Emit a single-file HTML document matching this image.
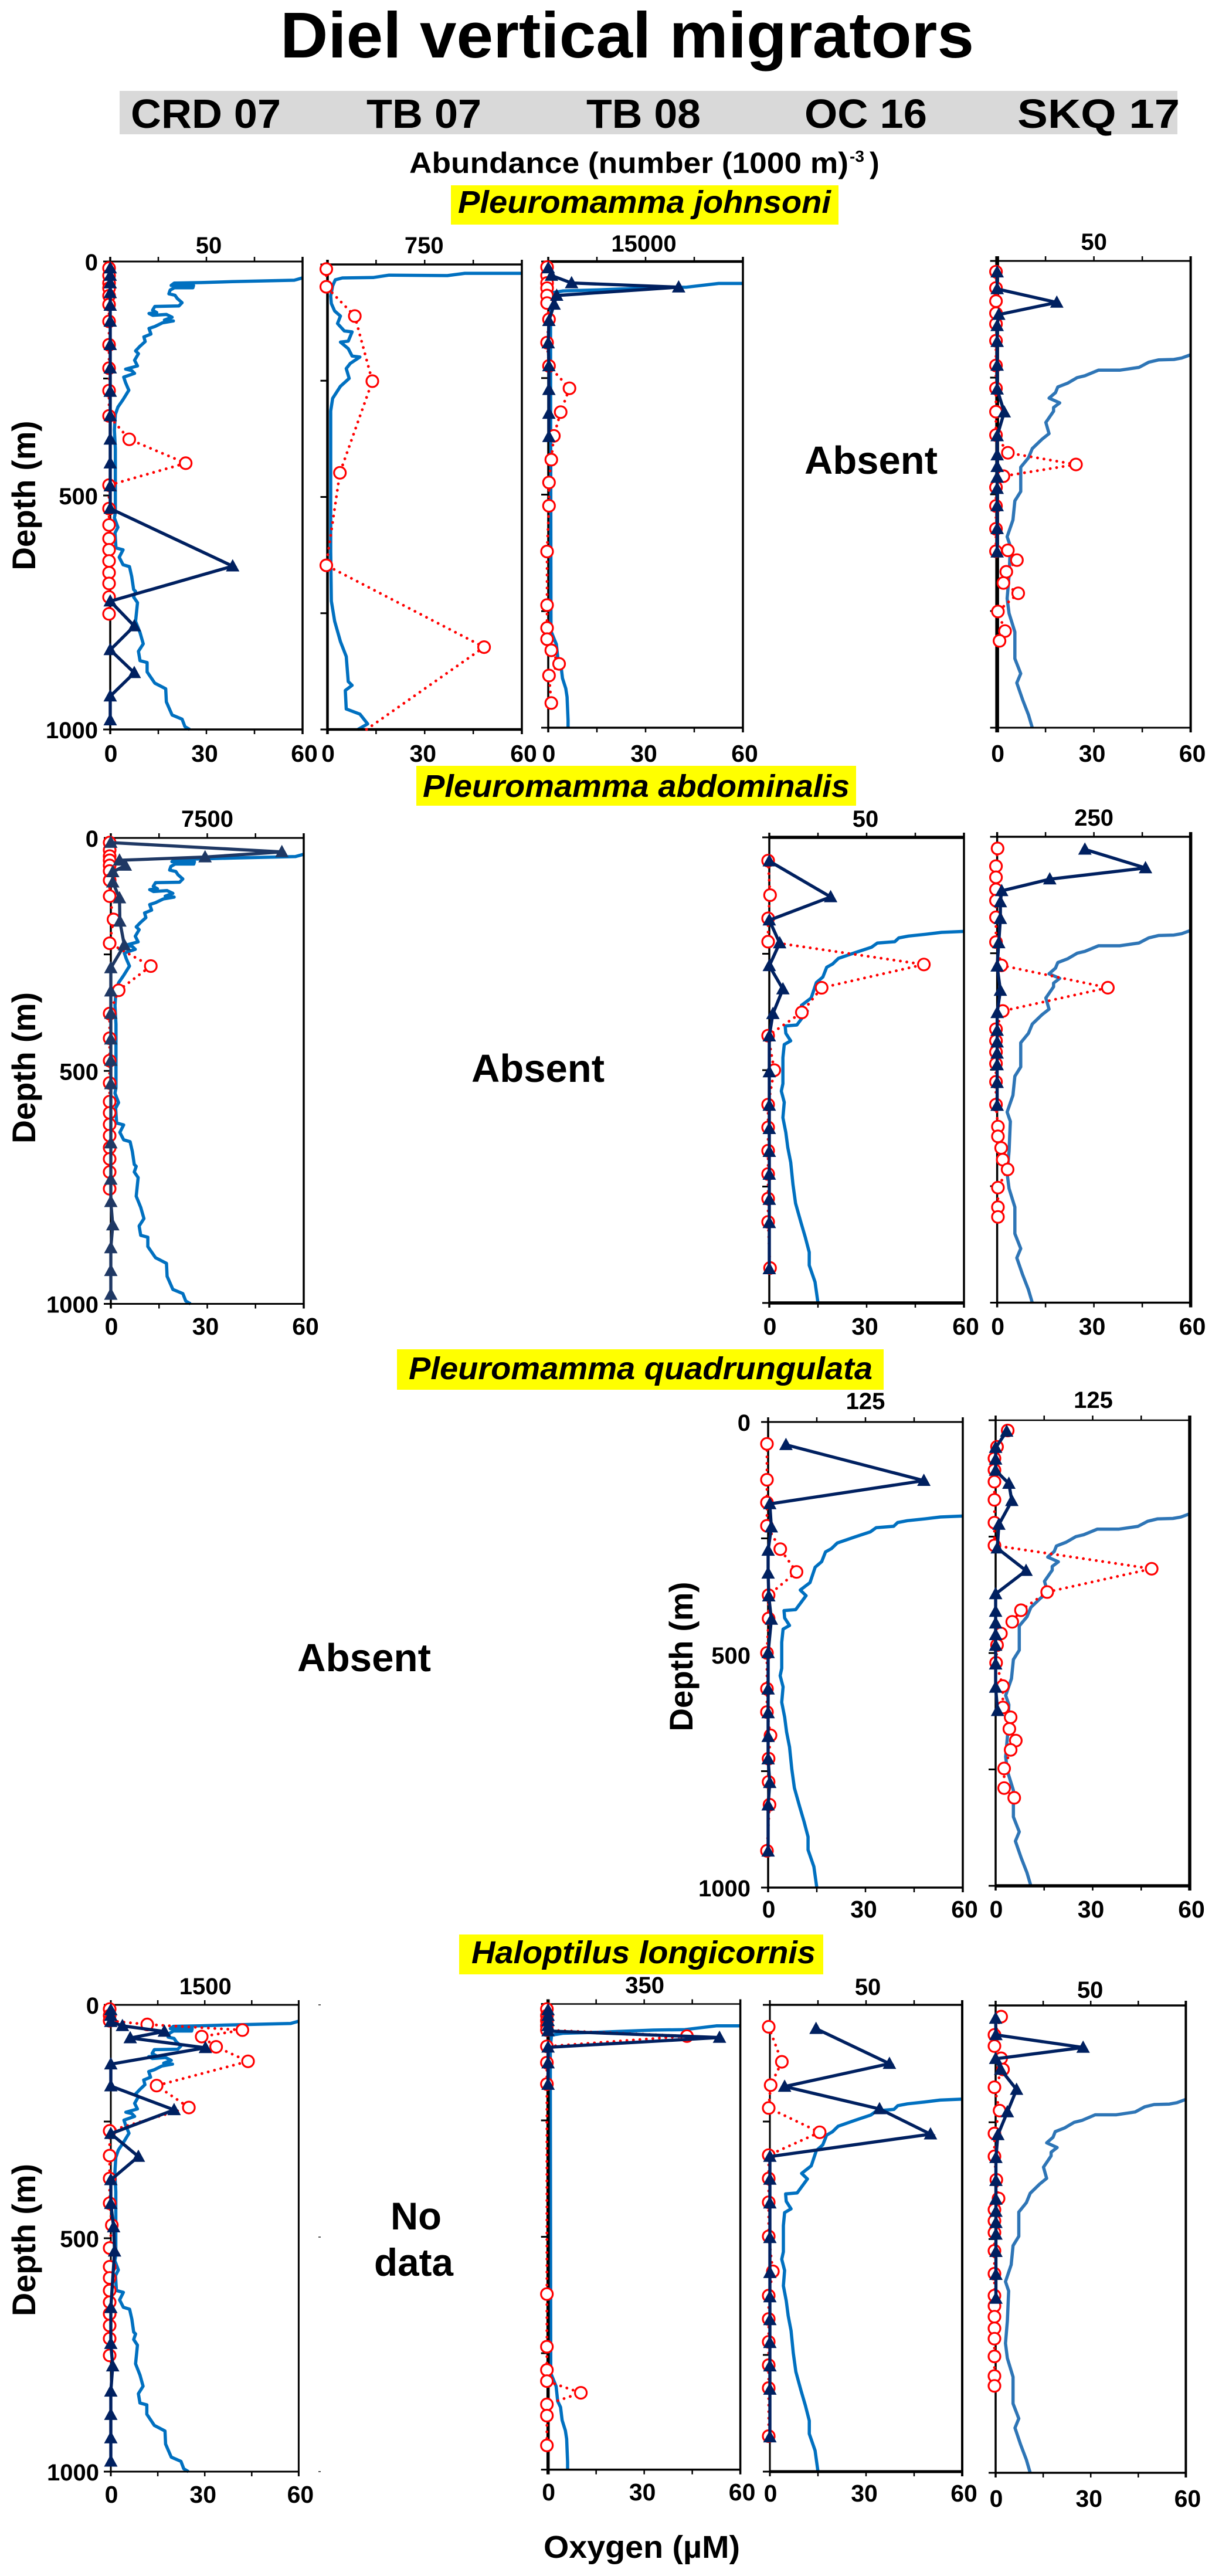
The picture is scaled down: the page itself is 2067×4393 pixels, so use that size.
<!DOCTYPE html>
<html lang="en">
<head>
<meta charset="utf-8">
<title>Diel vertical migrators</title>
<style>
html,body{margin:0;padding:0;background:#fff;}
svg{display:block;}
text{font-family:"Liberation Sans",sans-serif;font-weight:bold;fill:#000;}
</style>
</head>
<body>
<svg id="chart" xmlns="http://www.w3.org/2000/svg" width="2067" height="4393" viewBox="0 0 2067 4393">
<rect x="0" y="0" width="2067" height="4393" fill="#fff"/>
<text x="478" y="98" font-size="110" textLength="1183" lengthAdjust="spacingAndGlyphs">Diel vertical migrators</text>
<rect x="204" y="155" width="1804" height="74" fill="#d9d9d9"/>
<text x="223" y="218" font-size="70" textLength="256" lengthAdjust="spacingAndGlyphs">CRD 07</text>
<text x="625" y="218" font-size="70" textLength="196" lengthAdjust="spacingAndGlyphs">TB 07</text>
<text x="1000" y="218" font-size="70" textLength="195" lengthAdjust="spacingAndGlyphs">TB 08</text>
<text x="1372" y="218" font-size="70" textLength="209" lengthAdjust="spacingAndGlyphs">OC 16</text>
<text x="1735" y="218" font-size="70" textLength="277" lengthAdjust="spacingAndGlyphs">SKQ 17</text>
<text x="698" y="295" font-size="50" textLength="749" lengthAdjust="spacingAndGlyphs">Abundance (number (1000 m)</text>
<text x="1449" y="276" font-size="28">-3</text>
<text x="1483" y="295" font-size="50">)</text>

<rect x="769" y="316" width="661" height="67" fill="#ffff00"/>
<text x="781" y="363" font-size="54" font-style="italic" textLength="636" lengthAdjust="spacingAndGlyphs">Pleuromamma johnsoni</text>
<rect x="710" y="1306" width="750" height="68" fill="#ffff00"/>
<text x="721" y="1359" font-size="54" font-style="italic" textLength="728" lengthAdjust="spacingAndGlyphs">Pleuromamma abdominalis</text>
<rect x="677" y="2301" width="830" height="69" fill="#ffff00"/>
<text x="697" y="2352" font-size="54" font-style="italic" textLength="791" lengthAdjust="spacingAndGlyphs">Pleuromamma quadrungulata</text>
<rect x="783" y="3299" width="621" height="68" fill="#ffff00"/>
<text x="804" y="3348" font-size="54" font-style="italic" textLength="587" lengthAdjust="spacingAndGlyphs">Haloptilus longicornis</text>

<text x="1372" y="808" font-size="67" textLength="227" lengthAdjust="spacingAndGlyphs">Absent</text>
<text x="804" y="1845" font-size="67" textLength="227" lengthAdjust="spacingAndGlyphs">Absent</text>
<text x="507" y="2850" font-size="67" textLength="228" lengthAdjust="spacingAndGlyphs">Absent</text>
<text x="666" y="3802" font-size="66" textLength="87" lengthAdjust="spacingAndGlyphs">No</text>
<text x="638" y="3881" font-size="66" textLength="135" lengthAdjust="spacingAndGlyphs">data</text>

<text transform="translate(60,845) rotate(-90)" text-anchor="middle" font-size="56" textLength="255" lengthAdjust="spacingAndGlyphs">Depth (m)</text>
<text transform="translate(60,1821) rotate(-90)" text-anchor="middle" font-size="56" textLength="258" lengthAdjust="spacingAndGlyphs">Depth (m)</text>
<text transform="translate(1181,2825) rotate(-90)" text-anchor="middle" font-size="56" textLength="255" lengthAdjust="spacingAndGlyphs">Depth (m)</text>
<text transform="translate(60,3820) rotate(-90)" text-anchor="middle" font-size="56" textLength="260" lengthAdjust="spacingAndGlyphs">Depth (m)</text>
<text x="927" y="4362" font-size="54" textLength="335" lengthAdjust="spacingAndGlyphs">Oxygen (µM)</text>
<rect x="543" y="3418" width="4" height="2" fill="#555"/>
<rect x="543" y="3814" width="4" height="2" fill="#555"/>
<rect x="543" y="4214" width="4" height="2" fill="#555"/>
</svg>

<script>
// ---------- Axis tick values ----------
const oxygenTickValues = [0, 15, 30, 45, 60];
const oxygenTickLabels = [0, 30, 60];
const depthTickValues = [0, 250, 500, 750, 1000];
const depthTickLabels = [0, 500, 1000];

// ---------- Oxygen profiles (uM) by station ----------
const crdOxygen = [60,57.4,38.1,28.4,20,19,26,25.8,20,18.7,18.3,20.2,20.9,22.4,21.4,13.9,13.2,14.5,12.1,13.3,17.5,19.3,16.9,19.7,16.3,13.9,12.1,12.7,10.5,10.9,9.3,7.9,8.8,7.6,8.5,4.8,6.7,7.6,4.2,4.8,5.8,4,2.4,1.6,1.3,1.6,1.6,1.6,1.3,2.4,1.5,1.8,4,2.8,4,6,6.7,7.3,7.9,7.3,8.5,7.9,9.3,10.3,8.8,9.3,11.5,11.5,13.9,17.3,17.5,19.3,22.4,23.3,24.8];
const crdOxygenDepth = [35,40,43,45,46,51,51,56,56,61,69,72,79,88,95,96,104,109,111,115,113,119,125,127,131,139,143,155,161,171,181,191,197,211,223,230,233,239,247,259,275,295,311,327,360,400,480,536,548,568,580,612,616,632,648,652,673,701,705,717,729,769,793,817,833,853,857,877,901,913,941,969,978,994,1000];
const tb07Oxygen = [60,42.4,37,19,14.2,4.6,2.4,1.6,1,1.2,2.2,4,3.1,5.2,7.6,6.4,4,6.4,7.6,10,7,5.8,6.7,4,1.6,1,1,1,1.2,2.2,4,5.8,6.4,7.6,5.5,5.8,10,12.4,9.4];
const tb07OxygenDepth = [19,19,24,23,28,29,33,46,68,84,100,111,127,143,145,165,167,181,197,199,213,224,245,262,288,315,509,617,724,767,811,843,897,905,916,956,967,988,1000];
const tb08Oxygen = [60,52.5,42.7,32.8,14.5,4.6,1.1,0.7,0.7,0.85,2.5,3,3.9,4.4,5.4,5.8,6.1,6.1];
const tb08OxygenDepth = [47,47,55,56,61,63,67,93,129,793,821,853,866,894,916,934,984,1000];
const ocOxygen = [60,53.1,48.3,42.9,39.9,38.7,33.3,31.5,26.7,21.3,19.5,17.7,16.5,14.5,12.9,9.9,11.7,8.5,4.9,5.1,6.6,4.6,4.2,4.2,3.7,4.6,4.2,5.1,5.7,6.6,7.3,8.1,9.7,11.1,12.3,12.3,14.1,15];
const ocOxygenDepth = [202,204,208,212,216,224,227,236,247,260,272,279,300,312,345,361,373,403,405,421,437,445,473,529,545,569,602,634,666,698,746,786,826,859,891,919,955,1000];
const skqOxygen = [60,57.2,54.8,50,47,44,38,31.4,27.2,24.8,21.8,18.8,18.1,16.1,19.4,17.5,17.5,15.1,16.1,13.9,10.9,9.7,7.3,7.3,5.5,4.9,3.1,4.1,3.7,3.1,3.7,5.5,5.5,7.3,6.1,7.9,9.7,10.9];
const skqOxygenDepth = [201,208,211,212,217,228,234,234,246,250,262,270,282,294,304,314,322,346,370,382,402,422,442,494,514,555,591,611,675,723,755,795,852,884,904,940,972,1000];

// ---------- Abundance, read on the shared 0-60 axis ----------
// triangles = solid series, circles = dotted series
const johnsoniCrdTriangle = [0,0,0,0,0,0,0,0,0,0,0,0,0,0,38.2,0,7.5,0,7.5,0,0];
const johnsoniCrdTriangleDepth = [14,30,46,67,94,128,178,228,278,330,380,431,480,528,651,726,779,830,879,929,980];
const johnsoniCrdCircle = [0,0,0,0,0,0,0,0,0,0,0,6.3,23.9,0,0,0,0,0,0,0,0,0,0];
const johnsoniCrdCircleDepth = [14,30,46,57,73,92,128,178,228,276,330,380,431,478,528,563,592,616,640,665,688,717,753];

const johnsoniTb07Triangle = [];
const johnsoniTb07TriangleDepth = [];
const johnsoniTb07Circle = [0,0,8.8,14.2,4.2,0,48.7,12.4];
const johnsoniTb07CircleDepth = [10,48,111,251,448,647,823,1000];

const johnsoniTb08Triangle = [0,1,7.2,40.2,2.6,1.8,0.2,0,0.2,0.2,0.2,0.2];
const johnsoniTb08TriangleDepth = [14,30,46,55,73,92,127,175,224,275,326,376];
const johnsoniTb08Circle = [0,0,0,0,0,0,0.6,0,0.6,6.9,4.2,2.1,1.3,0.6,0.6,0,0,0,0,1.3,3.7,0.6,1.3];
const johnsoniTb08CircleDepth = [12,30,46,57,73,89,124,174,224,272,323,374,425,474,524,622,737,786,810,834,863,888,947];

const johnsoniSkqTriangle = [0,0,18.5,0.5,0,0,0,0,2.2,0,0,0,0,0,0,0,0];
const johnsoniSkqTriangleDepth = [24,60,89,115,139,173,224,275,324,375,416,441,464,488,525,574,624];
const johnsoniSkqCircle = [0,0,0,0,0,0,0,0,0,0,3.7,24.8,2.3,0,0,0,0,3.7,6.5,3.2,2.3,6.9,0.6,2.8,1.1];
const johnsoniSkqCircleDepth = [23,58,86,112,135,171,224,273,323,373,411,436,461,485,525,574,622,620,641,666,690,712,751,793,814];

const abdominalisCrdTriangle = [0,53.2,29.3,2.7,4.5,0.6,0.6,2.7,2.8,4.2,0,0,0,0,0,0,0,0,0,0.6,0,0,0];
const abdominalisCrdTriangleDepth = [10,30,41,48,59,73,95,129,179,230,279,329,377,432,478,528,655,733,781,831,880,929,980];
const abdominalisCrdCircle = [0,0,0,0,0,0,0,0,1.2,0,12.8,2.8,0,0,0,0,0,0,0,0,0,0,0,0];
const abdominalisCrdCircleDepth = [10,26,39,48,59,71,91,125,175,226,275,327,377,430,478,526,566,590,615,639,665,689,717,753];

const abdominalisOcTriangle = [0,18.9,0,3.2,0,4.2,1.1,0,0,0,0,0,0,0,0,0];
const abdominalisOcTriangleDepth = [51,128,178,227,276,326,379,427,504,576,626,675,724,778,828,927];
const abdominalisOcCircle = [0,0.6,0,0,48,16.5,10.4,0,1.9,0,0,0,0,0,0,0.6];
const abdominalisOcCircleDepth = [50,124,174,224,273,323,376,426,500,574,623,673,723,776,826,925];

const abdominalisSkqTriangle = [27.2,46,16.3,1.4,1,1,0.5,0,1,0,0,0,0,0,0,0];
const abdominalisSkqTriangleDepth = [27,67,91,116,140,176,228,278,330,378,416,441,465,490,528,577];
const abdominalisSkqCircle = [0.5,0,0,0,0,0,0,1.7,34.7,2.1,0,0,0,0,0,0,0.6,0.6,1.6,2.1,3.6,0.6,0.6,0.6];
const abdominalisSkqCircleDepth = [25,63,87,113,137,173,226,276,324,374,413,438,462,487,526,575,622,643,668,693,714,753,795,816];

const quadrungulataOcTriangle = [5.5,48,0.5,1,0,0,0.2,1,0,0,0,0,0,0.5,0,0];
const quadrungulataOcTriangleDepth = [49,126,176,226,276,325,374,424,496,574,625,676,724,775,823,922];
const quadrungulataOcCircle = [0,0,0,0,4.1,9.1,0.5,0.5,0,0,0,1.1,0.5,0.5,0.8,0];
const quadrungulataOcCircleDepth = [47,124,173,223,273,322,372,422,496,573,623,673,723,773,822,921];

const quadrungulataSkqTriangle = [3.4,0,0,0,4.1,5,1,0.5,9.4,0,0,0,0,0,0,0,0.6];
const quadrungulataSkqTriangleDepth = [24,59,84,108,136,173,224,275,323,373,411,436,461,484,524,574,624];
const quadrungulataSkqCircle = [4.1,0.8,0,0,0,0,0,0,48.6,16.3,8.2,5.5,2,0.8,0.5,2.6,2.6,5,4.6,6.6,5,3,3,6.1];
const quadrungulataSkqCircleDepth = [22,57,82,107,132,171,220,269,319,369,408,433,458,483,521,571,617,638,663,688,708,748,790,811];

const longicornisCrdTriangle = [0,0,0,3.7,17.1,6.2,30.2,0,0,20.2,0,8.8,0,0,0.9,1.2,0,0,0.6,0,0,0,0];
const longicornisCrdTriangleDepth = [11,23,36,45,57,71,92,127,174,225,276,325,375,426,476,528,649,726,774,828,878,928,978];
const longicornisCrdCircle = [0,0,0,12,42.4,29.4,34,44.2,15,25.3,0,0,0,0,0.7,0,0,0,0,0,0,0,0,0];
const longicornisCrdCircleDepth = [9,23,34,42,54,68,90,121,173,220,270,323,372,425,472,521,561,585,612,637,662,687,715,751];

const longicornisTb08Triangle = [0,0,0,0,0,53.5,0,0,0];
const longicornisTb08TriangleDepth = [13,25,36,47,58,72,93,127,173];
const longicornisTb08Circle = [0,0,0,0,0,43.7,0,0,0,0,0,0,0,10.6,0,0,0];
const longicornisTb08CircleDepth = [11,25,36,47,56,69,91,126,172,623,736,786,810,835,860,884,948];

const longicornisOcTriangle = [14.4,37.3,4.6,34.2,50.1,0,0,0,0,0,0,0,0,0,0,0];
const longicornisOcTriangleDepth = [51,126,175,223,277,325,374,425,499,574,626,675,724,774,824,926];
const longicornisOcCircle = [0,4.1,0.6,0,15.9,0,0,0,0,1.3,0,0,0,0,0,0];
const longicornisOcCircleDepth = [47,122,172,221,273,322,372,423,496,571,623,673,722,772,821,924];

const longicornisSkqTriangle = [0,0.1,27.6,0,1.6,6.6,3.7,0.7,0.1,0.1,0.1,0.1,0.1,0.1,0.1,0.1,0.1];
const longicornisSkqTriangleDepth = [28,63,90,114,137,180,228,277,326,375,415,441,465,490,527,576,627];
const longicornisSkqCircle = [2.1,0,0,2.1,2.7,0,1.6,0,0,0.6,1.3,0,0,0,0,0,0,0,0,0,0,0,0,0];
const longicornisSkqCircleDepth = [24,63,87,113,137,175,225,274,323,373,413,437,461,486,525,574,621,643,666,691,713,751,793,814];

// ---------- Panel layout ----------
const panels = [
 {name:'johnsoni-crd',x0:188,x60:516,y0:446,y1:1244,top:'50',topY:432,topDx:4,botY:1299,axis:[2.5,3,3,3],depth:true,depthDx:-21,o2:crdOxygen,o2d:crdOxygenDepth,o2c:'#0070c0',tri:johnsoniCrdTriangle,trid:johnsoniCrdTriangleDepth,cir:johnsoniCrdCircle,cird:johnsoniCrdCircleDepth},
 {name:'johnsoni-tb07',x0:558.5,x60:890,y0:451,y1:1244,top:'750',topY:432,topDx:-1,botY:1299,axis:[3,4,4,3],o2:tb07Oxygen,o2d:tb07OxygenDepth,o2c:'#0070c0',tri:johnsoniTb07Triangle,trid:johnsoniTb07TriangleDepth,cir:johnsoniTb07Circle,cird:johnsoniTb07CircleDepth},
 {name:'johnsoni-tb08',x0:935,x60:1267,y0:446,y1:1241,top:'15000',topY:429,topDx:-3,botY:1299,axis:[4,3,3,3],o2:tb08Oxygen,o2d:tb08OxygenDepth,o2c:'#0070c0',tri:johnsoniTb08Triangle,trid:johnsoniTb08TriangleDepth,cir:johnsoniTb08Circle,cird:johnsoniTb08CircleDepth},
 {name:'johnsoni-skq',x0:1700.6,x60:2030.6,y0:445,y1:1241,top:'50',topY:426,topDx:0,botY:1299,axis:[2.5,2.5,6,3.5],o2:skqOxygen,o2d:skqOxygenDepth,o2c:'#2e75b6',tri:johnsoniSkqTriangle,trid:johnsoniSkqTriangleDepth,cir:johnsoniSkqCircle,cird:johnsoniSkqCircleDepth},

 {name:'abdominalis-crd',x0:189,x60:518,y0:1429,y1:2223.5,top:'7500',topY:1410,topDx:0,botY:2276,axis:[2.5,2.5,3,3],depth:true,depthDx:-21,o2:crdOxygen,o2d:crdOxygenDepth,o2c:'#0070c0',tri:abdominalisCrdTriangle,trid:abdominalisCrdTriangleDepth,cir:abdominalisCrdCircle,cird:abdominalisCrdCircleDepth,triC:'#1f3864'},
 {name:'abdominalis-oc',x0:1312,x60:1644,y0:1428,y1:2222,top:'50',topY:1410,topDx:-2,botY:2276,axis:[5,5,3,3],o2:ocOxygen,o2d:ocOxygenDepth,o2c:'#0070c0',tri:abdominalisOcTriangle,trid:abdominalisOcTriangleDepth,cir:abdominalisOcCircle,cird:abdominalisOcCircleDepth},
 {name:'abdominalis-skq',x0:1700.6,x60:2030.6,y0:1427,y1:2221.5,top:'250',topY:1408,topDx:0,botY:2276,axis:[3,3,3,5],o2:skqOxygen,o2d:skqOxygenDepth,o2c:'#2e75b6',tri:abdominalisSkqTriangle,trid:abdominalisSkqTriangleDepth,cir:abdominalisSkqCircle,cird:abdominalisSkqCircleDepth},

 {name:'quadrungulata-oc',x0:1310,x60:1642,y0:2425,y1:3219,top:'125',topY:2403,topDx:0,botY:3270,axis:[2.5,3,3,3],depth:true,depthDx:-30,o2:ocOxygen,o2d:ocOxygenDepth,o2c:'#0070c0',tri:quadrungulataOcTriangle,trid:quadrungulataOcTriangleDepth,cir:quadrungulataOcCircle,cird:quadrungulataOcCircleDepth},
 {name:'quadrungulata-skq',x0:1698,x60:2029,y0:2422,y1:3216,top:'125',topY:2401,topDx:1,botY:3270,axis:[2,5,3,5],o2:skqOxygen,o2d:skqOxygenDepth,o2c:'#2e75b6',tri:quadrungulataSkqTriangle,trid:quadrungulataSkqTriangleDepth,cir:quadrungulataSkqCircle,cird:quadrungulataSkqCircleDepth},

 {name:'longicornis-crd',x0:189,x60:509.4,y0:3419,y1:4215,top:'1500',topY:3401,topDx:1,botY:4268,axis:[2.5,2.5,2.5,2.5],depth:true,depthDx:-20,o2:crdOxygen,o2d:crdOxygenDepth,o2c:'#0070c0',tri:longicornisCrdTriangle,trid:longicornisCrdTriangleDepth,cir:longicornisCrdCircle,cird:longicornisCrdCircleDepth},
 {name:'longicornis-tb08',x0:934.7,x60:1262.6,y0:3417.5,y1:4211.6,top:'350',topY:3399,topDx:1,botY:4264,axis:[2,3,5,3],o2:tb08Oxygen,o2d:tb08OxygenDepth,o2c:'#0070c0',tri:longicornisTb08Triangle,trid:longicornisTb08TriangleDepth,cir:longicornisTb08Circle,cird:longicornisTb08CircleDepth},
 {name:'longicornis-oc',x0:1313,x60:1641,y0:3419,y1:4215,top:'50',topY:3402,topDx:3,botY:4266,axis:[3,4.5,2.5,3.5],o2:ocOxygen,o2d:ocOxygenDepth,o2c:'#0070c0',tri:longicornisOcTriangle,trid:longicornisOcTriangleDepth,cir:longicornisOcCircle,cird:longicornisOcCircleDepth},
 {name:'longicornis-skq',x0:1698,x60:2022.4,y0:3420,y1:4217,top:'50',topY:3407,topDx:-1,botY:4275,axis:[3,3,3,3.5],o2:skqOxygen,o2d:skqOxygenDepth,o2c:'#2e75b6',tri:longicornisSkqTriangle,trid:longicornisSkqTriangleDepth,cir:longicornisSkqCircle,cird:longicornisSkqCircleDepth}
];

const svgNS = 'http://www.w3.org/2000/svg';
const chart = document.getElementById('chart');

function make(tag, parent, attrs) {
  const el = document.createElementNS(svgNS, tag);
  for (const k in attrs) el.setAttribute(k, attrs[k]);
  parent.appendChild(el);
  return el;
}

function drawPanel(p) {
  const xScale = v => p.x0 + v / 60 * (p.x60 - p.x0);
  const yScale = d => p.y0 + d / 1000 * (p.y1 - p.y0);
  const g = make('g', chart, {});
  
  

  // oxygen profile
  const o2pts = p.o2.map((v, i) => xScale(v).toFixed(1) + ',' + yScale(p.o2d[i]).toFixed(1)).join(' ');
  const o2line = make('polyline', g, {points: o2pts, fill: 'none', stroke: p.o2c, 'stroke-width': 5.5, 'stroke-linejoin': 'round'});
  
  

  // axes frame
  const [tw, bw, lw, rw] = p.axis;
  const frame = [
    ['top', p.x0 - 1, p.y0, p.x60 + 1, p.y0, tw + 0.5],
    ['bottom', p.x0 - 1, p.y1, p.x60 + 1, p.y1, bw + 0.5],
    ['left', p.x0, p.y0 - 8, p.x0, p.y1 + 8, lw + 0.5],
    ['right', p.x60, p.y0 - 8, p.x60, p.y1 + 8, rw + 0.5]
  ];
  frame.forEach(f => {
    const ln = make('line', g, {x1: f[1], y1: f[2], x2: f[3], y2: f[4], stroke: '#000', 'stroke-width': f[5]});
    
    
  });
  oxygenTickValues.forEach(v => {
    const t1 = make('line', g, {x1: xScale(v), y1: p.y0 - 8, x2: xScale(v), y2: p.y0, stroke: '#000', 'stroke-width': 2.5});
    
    
    const t2 = make('line', g, {x1: xScale(v), y1: p.y1, x2: xScale(v), y2: p.y1 + 8, stroke: '#000', 'stroke-width': 2.5});
    
    
  });
  depthTickValues.forEach(d => {
    const t = make('line', g, {x1: p.x0 - 12, y1: yScale(d), x2: p.x0, y2: yScale(d), stroke: '#000', 'stroke-width': 3});
    
    
  });

  // circle series (dotted)
  const cirPts = p.cir.map((v, i) => (xScale(v) - 2).toFixed(1) + ',' + yScale(p.cird[i]).toFixed(1)).join(' ');
  const cirLine = make('polyline', g, {points: cirPts, fill: 'none', stroke: '#ff0000', 'stroke-width': 4.8, 'stroke-linecap': 'round', 'stroke-dasharray': '0.1 11'});
  
  
  p.cir.forEach((v, i) => {
    if (p.cird[i] >= 1000) return;
    const c = make('circle', g, {cx: (xScale(v) - 2).toFixed(1), cy: yScale(p.cird[i]).toFixed(1), r: 10, fill: '#fff', stroke: '#ff0000', 'stroke-width': 3.2});
    
    
  });

  // triangle series (solid)
  const triColor = p.triC || '#002060';
  if (p.tri.length) {
    const triPts = p.tri.map((v, i) => xScale(v).toFixed(1) + ',' + yScale(p.trid[i]).toFixed(1)).join(' ');
    const triLine = make('polyline', g, {points: triPts, fill: 'none', stroke: triColor, 'stroke-width': 5.4, 'stroke-linejoin': 'miter'});
    
    
  }
  p.tri.forEach((v, i) => {
    const cx = xScale(v), cy = yScale(p.trid[i]);
    const pts = (cx).toFixed(1) + ',' + (cy - 12).toFixed(1) + ' ' + (cx - 11.5).toFixed(1) + ',' + (cy + 9).toFixed(1) + ' ' + (cx + 11.5).toFixed(1) + ',' + (cy + 9).toFixed(1);
    const tr = make('polygon', g, {points: pts, fill: triColor});
    
    
  });

  // tick labels
  const labelDx = {0: 1, 30: -3, 60: 3};
  oxygenTickLabels.forEach(v => {
    const t = make('text', g, {x: xScale(v) + labelDx[v], y: p.botY, 'text-anchor': 'middle', 'font-size': 41});
    t.textContent = v;
    
    
  });
  const topT = make('text', g, {x: xScale(30) + p.topDx, y: p.topY, 'text-anchor': 'middle', 'font-size': 40});
  topT.textContent = p.top;
  
  
  if (p.depth) {
    depthTickLabels.forEach(d => {
      const t = make('text', g, {x: p.x0 + p.depthDx, y: yScale(d) + 15, 'text-anchor': 'end', 'font-size': 40});
      t.textContent = d;
      
      
    });
  }
}

panels.forEach(drawPanel);
</script>
</body>
</html>
